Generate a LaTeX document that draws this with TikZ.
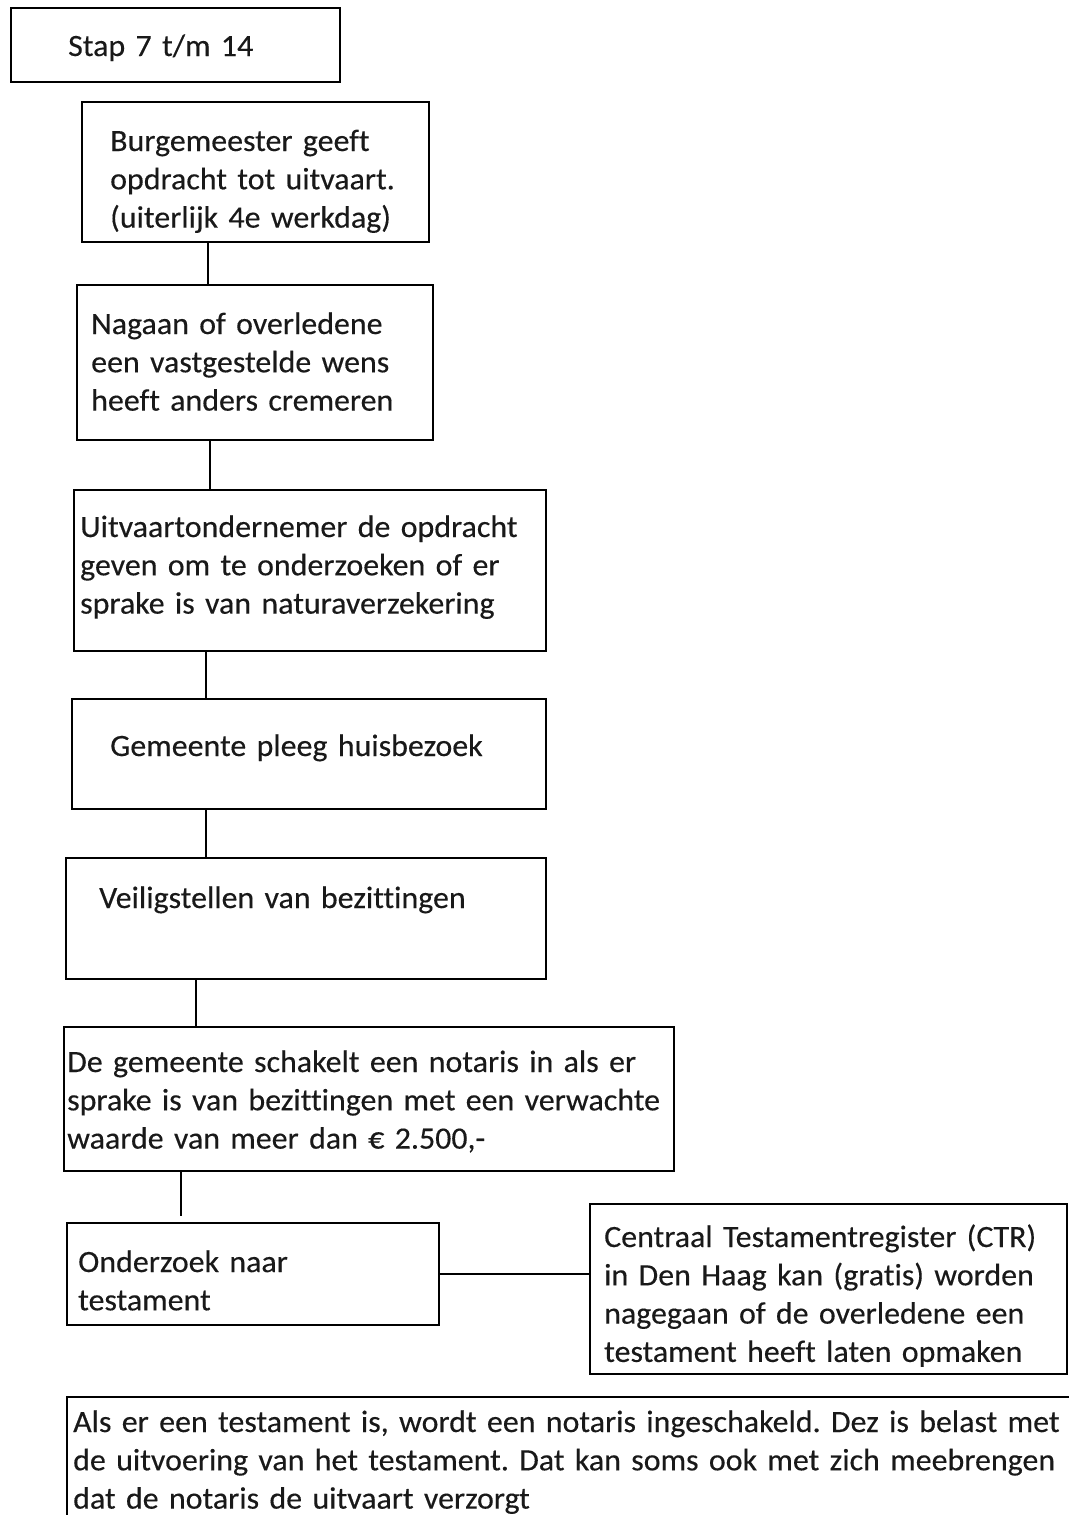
\documentclass[tikz,border=0pt]{standalone}
\usepackage{fontspec}
\setmainfont{Carlito}[Ligatures=NoCommon, FakeBold=0.3, FakeStretch=1.03, WordSpace=1.25]
\begin{document}
\frenchspacing
\begin{tikzpicture}[x=1pt,y=-1pt,
  box/.style={draw=black, line width=1.8pt, rectangle, inner sep=0pt, anchor=north west},
  txt/.style={anchor=base west, inner sep=0pt, text width=#1,
    font=\fontsize{31}{38.3}\selectfont, text=black!90},
  txt/.default=1000pt,
  conn/.style={draw=black, line width=1.8pt}]
\useasboundingbox (0,0) rectangle (1068,1515);
% boxes
\node[box, minimum width=329pt, minimum height=74pt]  (b0) at (10,7) {};
\node[box, minimum width=347pt, minimum height=140pt] (b1) at (81,101) {};
\node[box, minimum width=356pt, minimum height=155pt] (b2) at (76,284) {};
\node[box, minimum width=472pt, minimum height=161pt] (b3) at (73,489) {};
\node[box, minimum width=474pt, minimum height=110pt] (b4) at (71,698) {};
\node[box, minimum width=480pt, minimum height=121pt] (b5) at (65,857) {};
\node[box, minimum width=610pt, minimum height=144pt] (b6) at (63,1026) {};
\node[box, minimum width=372pt, minimum height=102pt] (b7) at (66,1222) {};
\node[box, minimum width=477pt, minimum height=170pt] (b8) at (589,1203) {};
\node[box, minimum width=1020pt, minimum height=160pt] (b9) at (66,1396) {};
% texts
\node[txt] (t0) at (68,56) {Stap 7 t/m 14};
\node[txt] (t1) at (110,151) {Burgemeester geeft\\opdracht tot uitvaart.\\(uiterlijk 4e werkdag)};
\node[txt] (t2) at (91,334) {Nagaan of overledene\\een vastgestelde wens\\heeft anders cremeren};
\node[txt] (t3) at (80,537) {Uitvaartondernemer de opdracht\\geven om te onderzoeken of er\\sprake is van naturaverzekering};
\node[txt] (t4) at (110,756) {Gemeente pleeg huisbezoek};
\node[txt] (t5) at (99,908) {Veiligstellen van bezittingen};
\node[txt] (t6) at (67,1072) {De gemeente schakelt een notaris in als er\\sprake is van bezittingen met een verwachte\\waarde van meer dan € 2.500,-};
\node[txt] (t7) at (78,1272) {Onderzoek naar\\testament};
\node[txt] (t8) at (604,1247) {Centraal Testamentregister (CTR)\\in Den Haag kan (gratis) worden\\nagegaan of de overledene een\\testament heeft laten opmaken};
\node[txt=1100pt] (t9) at (73,1432) {Als er een testament is, wordt een notaris ingeschakeld. Dez is belast met\\de uitvoering van het testament. Dat kan soms ook met zich meebrengen\\dat de notaris de uitvaart verzorgt};
% connector columns
\coordinate (c1) at (208,0);
\coordinate (c2) at (210,0);
\coordinate (c3) at (206,0);
\coordinate (c5) at (196,0);
\coordinate (c6) at (181,0);
\draw[conn] (b1.south -| c1) -- (b2.north -| c1);
\draw[conn] (b2.south -| c2) -- (b3.north -| c2);
\draw[conn] (b3.south -| c3) -- (b4.north -| c3);
\draw[conn] (b4.south -| c3) -- (b5.north -| c3);
\draw[conn] (b5.south -| c5) -- (b6.north -| c5);
\draw[conn, shorten >=6pt] (b6.south -| c6) -- (b7.north -| c6);
\draw[conn] (b7.east) -- (b7.east -| b8.west);
\end{tikzpicture}
\end{document}
